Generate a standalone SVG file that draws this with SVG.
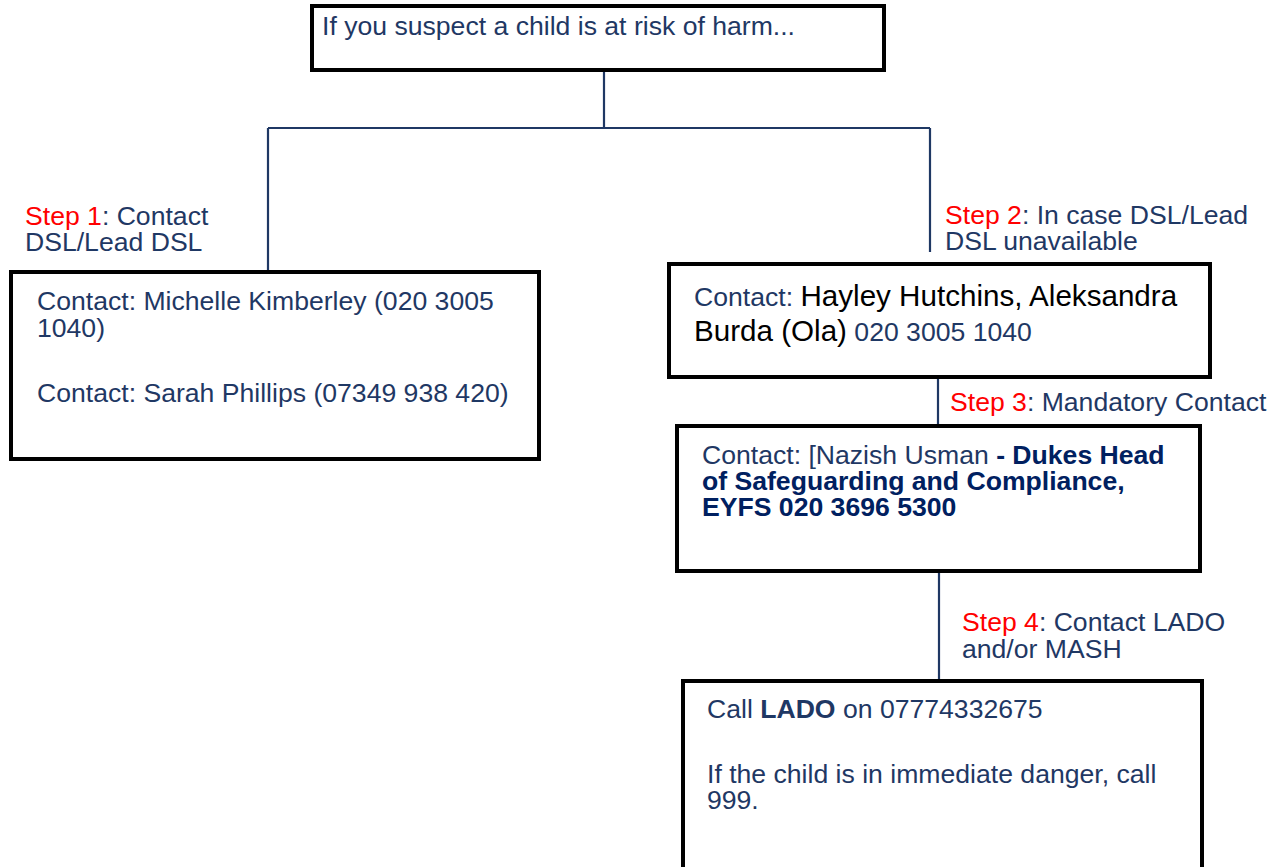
<svg xmlns="http://www.w3.org/2000/svg" width="1287" height="867" viewBox="0 0 1287 867">
<style>
.box{fill:#fff;stroke:#000;stroke-width:4}
.conn{fill:none;stroke:#1f3864;stroke-width:2.2}
text{font-family:"Liberation Sans",Arial,sans-serif;font-size:26.6px;fill:#1f3864}
.red{fill:#ff0000}
.blk{fill:#000;font-size:29.6px}
.b{font-weight:bold;fill:#002060}
</style>
<rect width="1287" height="867" fill="#fff"/>
<g id="connectors">
<path class="conn" d="M604 70V128M268 128H930M268 128V272M930 128V252M938 377V425M939 571V680"/>
</g>
<g id="top">
<rect class="box" x="312" y="6" width="572" height="64"/>
<text x="322" y="35">If you suspect a child is at risk of harm...</text>
</g>
<g id="step1">
<text x="25" y="225"><tspan class="red">Step 1</tspan>: Contact</text>
<text x="25" y="251">DSL/Lead DSL</text>
</g>
<g id="box1">
<rect class="box" x="11" y="272" width="528" height="187"/>
<text x="37" y="310">Contact: Michelle Kimberley (020 3005</text>
<text x="37" y="337">1040)</text>
<text x="37" y="402">Contact: Sarah Phillips (07349 938 420)</text>
</g>
<g id="step2">
<text x="945" y="224"><tspan class="red">Step 2</tspan>: In case DSL/Lead</text>
<text x="945" y="250">DSL unavailable</text>
</g>
<g id="box2">
<rect class="box" x="669" y="264" width="541" height="113"/>
<text x="694" y="306">Contact: <tspan class="blk">Hayley Hutchins, Aleksandra</tspan></text>
<text x="694" y="341"><tspan class="blk">Burda (Ola)</tspan> 020 3005 1040</text>
</g>
<g id="step3">
<text x="950" y="411"><tspan class="red">Step 3</tspan>: Mandatory Contact</text>
</g>
<g id="box3">
<rect class="box" x="677" y="426" width="523" height="145"/>
<text x="702" y="464">Contact: [Nazish Usman <tspan class="b">- Dukes Head</tspan></text>
<text x="702" y="490" class="b">of Safeguarding and Compliance,</text>
<text x="702" y="516" class="b">EYFS 020 3696 5300</text>
</g>
<g id="step4">
<text x="962" y="631"><tspan class="red">Step 4</tspan>: Contact LADO</text>
<text x="962" y="658">and/or MASH</text>
</g>
<g id="box4">
<rect class="box" x="683" y="681" width="519" height="200"/>
<text x="707" y="718">Call <tspan font-weight="bold">LADO</tspan> on 07774332675</text>
<text x="707" y="783">If the child is in immediate danger, call</text>
<text x="707" y="809">999.</text>
</g>
</svg>
